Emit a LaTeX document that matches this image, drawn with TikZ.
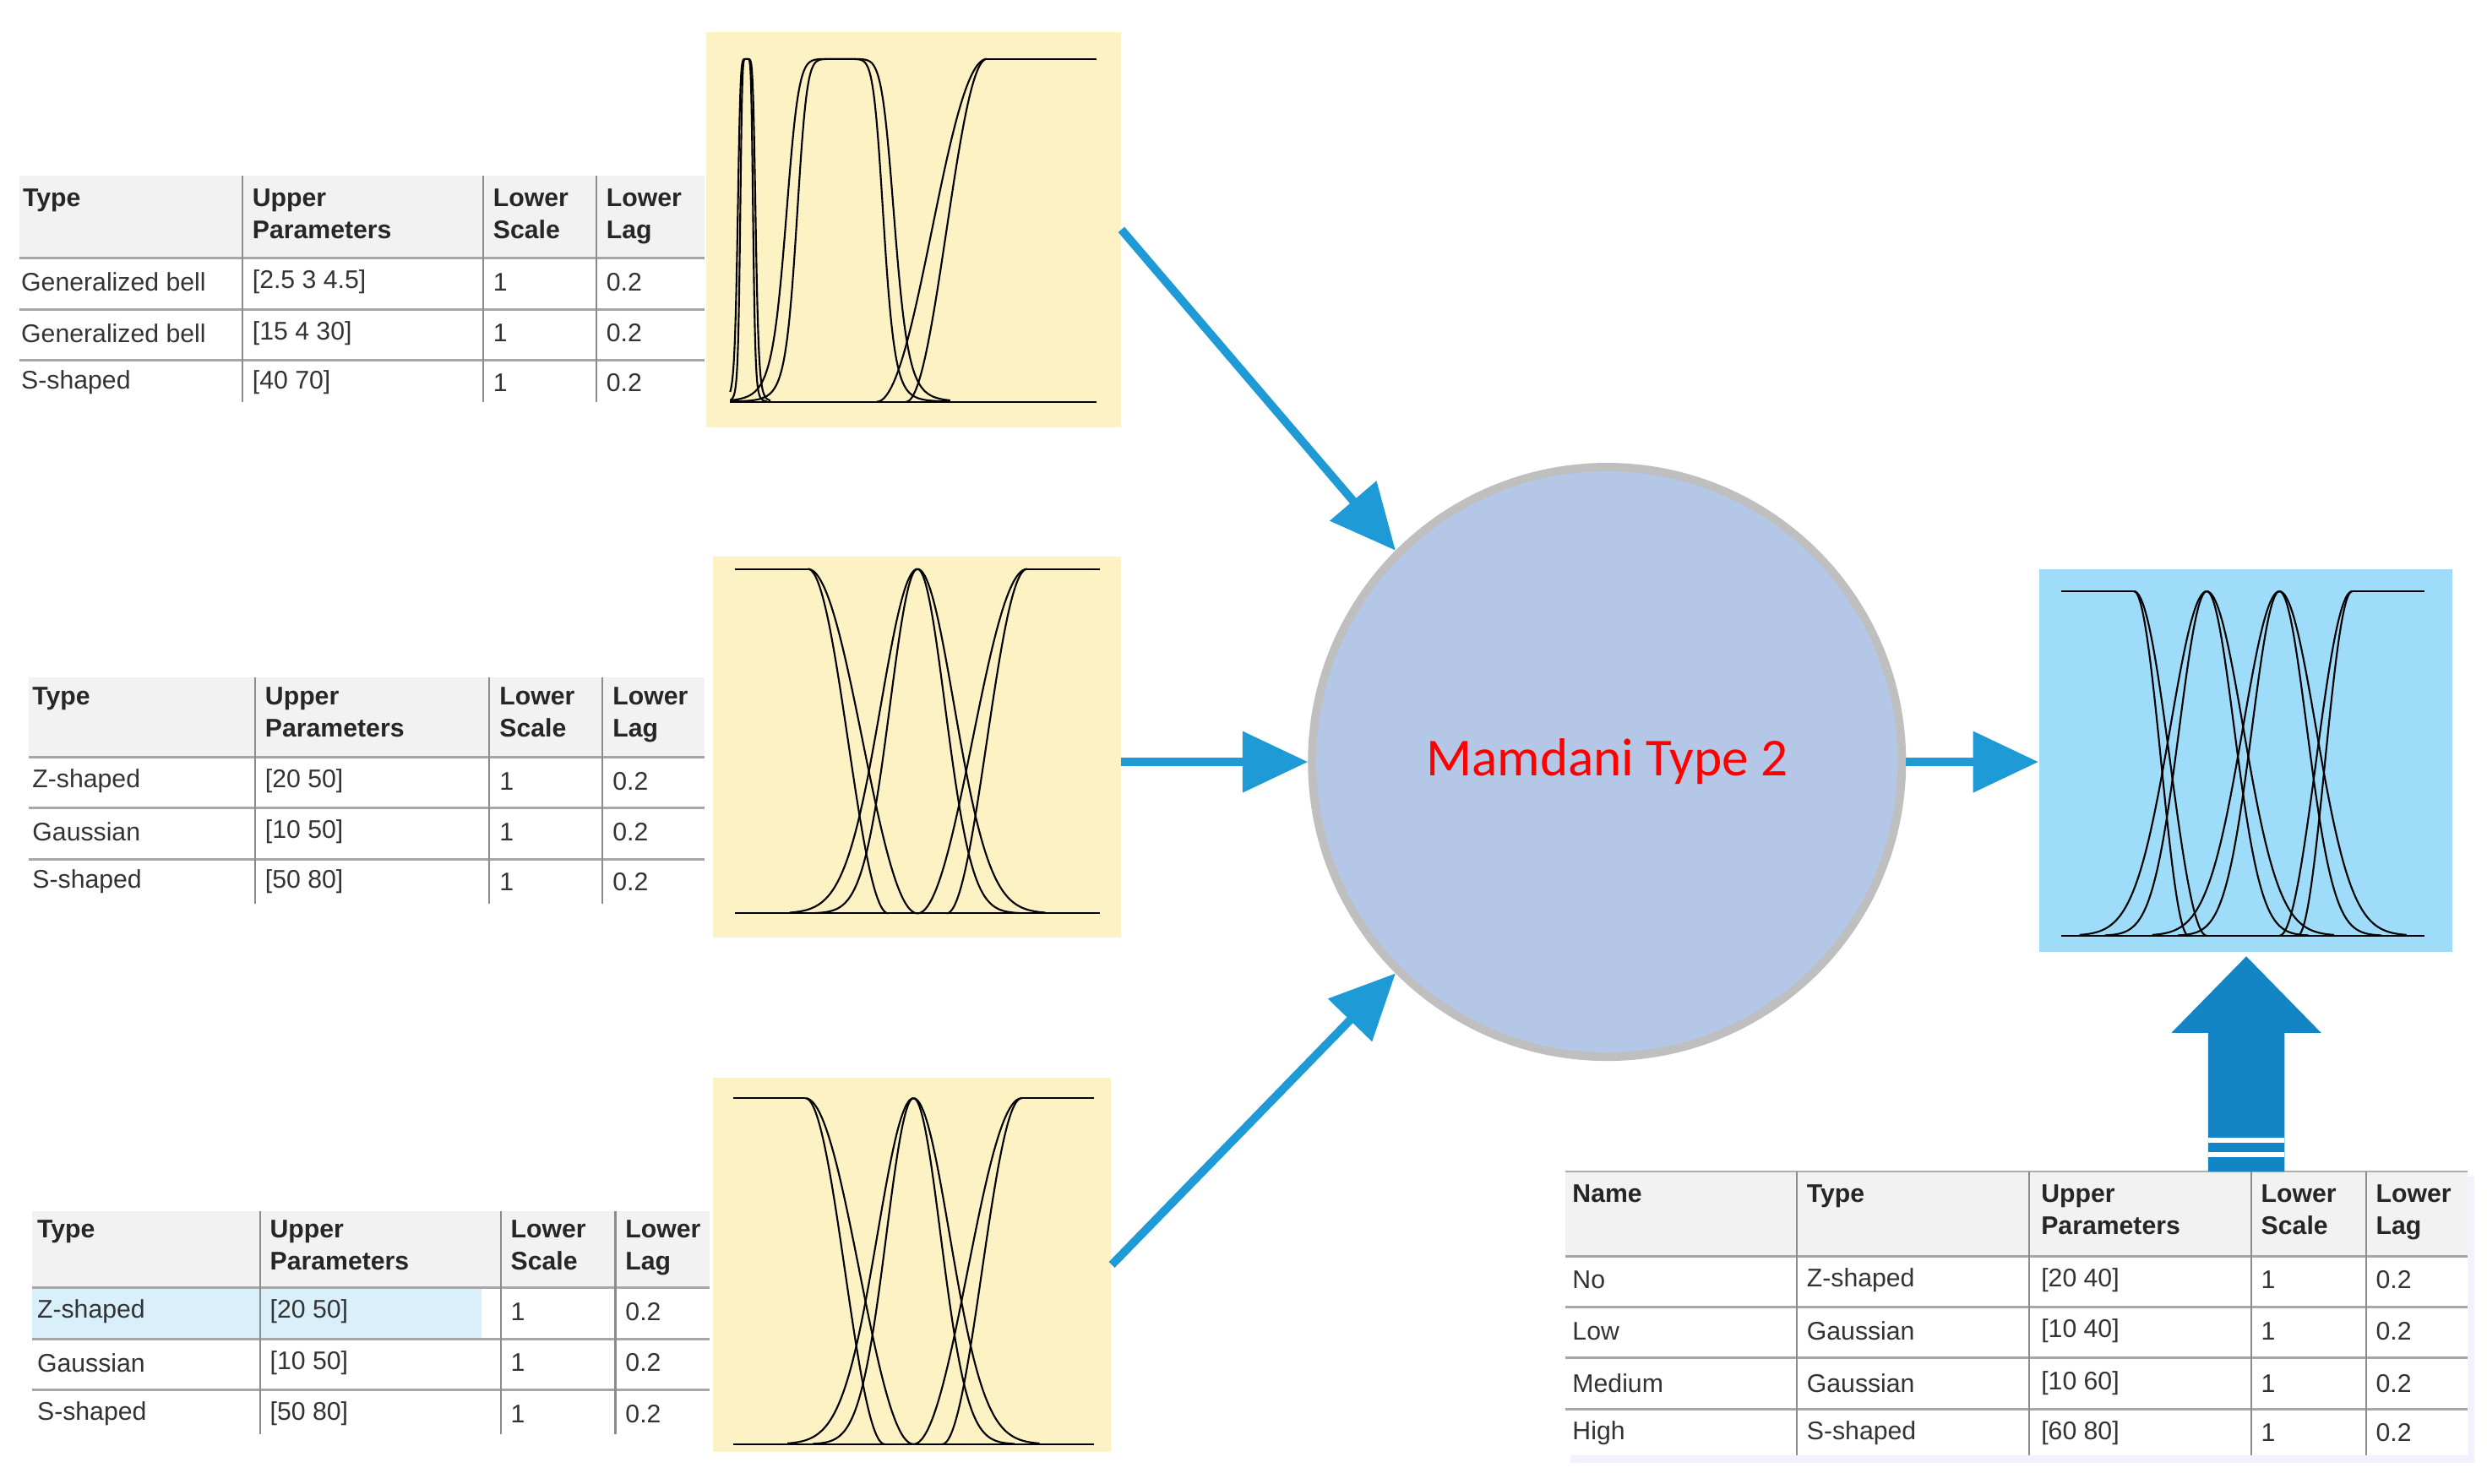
\documentclass[tikz,border=0pt]{standalone}
\usepackage{fontspec}
\setmainfont{Liberation Sans}
\newfontfamily\calib{Carlito}
\usetikzlibrary{arrows.meta}
\definecolor{hdrgray}{HTML}{F2F2F2}
\definecolor{rowgray}{HTML}{A6A6A6}
\definecolor{colgray}{HTML}{8C8C8C}
\definecolor{ybg}{HTML}{FDF2C4}
\definecolor{obg}{HTML}{9FDCF9}
\definecolor{circfill}{HTML}{B4C7E7}
\definecolor{circline}{HTML}{BFBFBF}
\definecolor{arrblue}{HTML}{1E9BD7}
\definecolor{bigblue}{HTML}{1384C4}
\definecolor{hilite}{HTML}{D9F0FB}
\def\u{0.01887cm}
\tikzset{
 hd/.style={anchor=north west,align=left,inner sep=0pt,font=\fontsize{8.6}{10.8}\selectfont\bfseries,text=black!85},
 cell/.style={anchor=west,inner sep=0pt,font=\fontsize{8.6}{10.8}\selectfont,text=black!80},
 rowline/.style={draw=rowgray,line width=0.9pt},
 colline/.style={draw=colgray,line width=0.6pt},
 mf/.style={black,line width=0.6pt},
 flow/.style={draw=arrblue,line width=2.8pt,-{Triangle[length=22pt,width=20pt]}},
 declare function={
  gb(\x,\a,\b,\c)=1/(1+(((\x-\c)/\a)^2)^\b);
  sm(\x,\a,\b)=0.5-0.5*cos(180*(\x-\a)/(\b-\a));
  zm(\x,\a,\b)=0.5+0.5*cos(180*(\x-\a)/(\b-\a));
  gs(\x,\s,\c)=exp(-0.5*((\x-\c)/\s)^2);
 }
}
\newcommand\mf[2]{\draw[mf] plot[domain=#1,samples=90,smooth] (\x,{#2});}
\begin{document}
\begin{tikzpicture}[x=\u,y=-\u]
\useasboundingbox (0,0) rectangle (1560,930.5);
% ---------- Table 1
\fill[hdrgray] (12,110) rectangle (442,162);
\foreach \yy in {162,194,226} \draw[rowline] (12,\yy)--(442,\yy);
\foreach \xx in {152,303,374} \draw[colline] (\xx,110)--(\xx,252);
\node[hd] (t1h1) at (14,118) {Type};
\node[hd] (t1h2) at (158,118) {Upper\\Parameters};
\node[hd] (t1h3) at (309,118) {Lower\\Scale};
\node[hd] (t1h4) at (380,118) {Lower\\Lag};
\foreach \yy/\a/\b [count=\i] in {177/{Generalized bell}/{[2.5 3 4.5]},209/{Generalized bell}/{[15 4 30]},240/{S-shaped}/{[40 70]}}{
 \node[cell] (t1a\i) at (13,\yy) {\a};
 \node[cell] (t1b\i) at (158,\yy) {\b};
 \node[cell] (t1c\i) at (309,\yy) {1};
 \node[cell] (t1d\i) at (380,\yy) {0.2};}
% ---------- Table 2
\fill[hdrgray] (18,425) rectangle (442,475);
\foreach \yy in {475,507,539} \draw[rowline] (18,\yy)--(442,\yy);
\foreach \xx in {160,307,378} \draw[colline] (\xx,425)--(\xx,567);
\node[hd] (t2h1) at (20,431) {Type};
\node[hd] (t2h2) at (166,431) {Upper\\Parameters};
\node[hd] (t2h3) at (313,431) {Lower\\Scale};
\node[hd] (t2h4) at (384,431) {Lower\\Lag};
\foreach \yy/\a/\b [count=\i] in {490/{Z-shaped}/{[20 50]},522/{Gaussian}/{[10 50]},553/{S-shaped}/{[50 80]}}{
 \node[cell] (t2a\i) at (20,\yy) {\a};
 \node[cell] (t2b\i) at (166,\yy) {\b};
 \node[cell] (t2c\i) at (313,\yy) {1};
 \node[cell] (t2d\i) at (384,\yy) {0.2};}
% ---------- Table 3
\fill[hdrgray] (20,760) rectangle (445,808);
\fill[hilite] (20,808) rectangle (302,840);
\foreach \yy in {808,840,872} \draw[rowline] (20,\yy)--(445,\yy);
\foreach \xx in {163,314,386} \draw[colline] (\xx,760)--(\xx,900);
\node[hd] (t3h1) at (23,765) {Type};
\node[hd] (t3h2) at (169,765) {Upper\\Parameters};
\node[hd] (t3h3) at (320,765) {Lower\\Scale};
\node[hd] (t3h4) at (392,765) {Lower\\Lag};
\foreach \yy/\a/\b [count=\i] in {823/{Z-shaped}/{[20 50]},855/{Gaussian}/{[10 50]},887/{S-shaped}/{[50 80]}}{
 \node[cell] (t3a\i) at (23,\yy) {\a};
 \node[cell] (t3b\i) at (169,\yy) {\b};
 \node[cell] (t3c\i) at (320,\yy) {1};
 \node[cell] (t3d\i) at (392,\yy) {0.2};}
% ---------- Table 4
\fill[blue!5] (985,738) rectangle (1552,918);
\fill[white] (982,735) rectangle (1548,913);
\fill[hdrgray] (982,735) rectangle (1548,788);
\draw[colgray!70,line width=0.6pt] (982,735)--(1548,735);
\foreach \yy in {788,820,852,884} \draw[rowline] (982,\yy)--(1548,\yy);
\foreach \xx in {1127,1273,1412,1484} \draw[colline] (\xx,735)--(\xx,913);
\node[hd] (t4h0) at (986,743) {Name};
\node[hd] (t4h1) at (1133,743) {Type};
\node[hd] (t4h2) at (1280,743) {Upper\\Parameters};
\node[hd] (t4h3) at (1418,743) {Lower\\Scale};
\node[hd] (t4h4) at (1490,743) {Lower\\Lag};
\foreach \yy/\n/\a/\b [count=\i] in {803/No/{Z-shaped}/{[20 40]},835/Low/{Gaussian}/{[10 40]},868/Medium/{Gaussian}/{[10 60]},899/High/{S-shaped}/{[60 80]}}{
 \node[cell] (t4n\i) at (986,\yy) {\n};
 \node[cell] (t4a\i) at (1133,\yy) {\a};
 \node[cell] (t4b\i) at (1280,\yy) {\b};
 \node[cell] (t4c\i) at (1418,\yy) {1};
 \node[cell] (t4d\i) at (1490,\yy) {0.2};}
% ---------- plot boxes
\node[fill=ybg,inner sep=0pt,minimum width={260*\u},minimum height={248*\u}] (p1) at (573,144) {};
\node[fill=ybg,inner sep=0pt,minimum width={256*\u},minimum height={239*\u}] (p2) at (575,468.5) {};
\node[fill=ybg,inner sep=0pt,minimum width={250*\u},minimum height={235*\u}] (p3) at (572,793.5) {};
\node[fill=obg,inner sep=0pt,minimum width={259*\u},minimum height={240*\u}] (out) at (1408.5,477) {};
% plot 1
\begin{scope}[shift={(458,252)},xscale=2.3,yscale=-215]
 \draw[mf] (0,0)--(100,0);
 \mf{0:11}{gb(\x,2.5,3,4.5)}
 \mf{0:10}{gb(\x,1.8,3,4.5)}
 \mf{0:60}{gb(\x,15,4,30)}
 \mf{0:60}{gb(\x,12,4,30)}
 \mf{40:70}{sm(\x,40,70)}
 \mf{48:70}{sm(\x,48,70)}
 \draw[mf] (70,1)--(100,1);
\end{scope}
% plot 2
\begin{scope}[shift={(461,573)},xscale=2.29,yscale=-216]
 \draw[mf] (0,0)--(100,0);
 \draw[mf] (0,1)--(20,1);
 \mf{20:50}{zm(\x,20,50)}
 \mf{20:42}{zm(\x,20,42)}
 \mf{15:85}{gs(\x,10,50)}
 \mf{22:78}{gs(\x,7.5,50)}
 \mf{50:80}{sm(\x,50,80)}
 \mf{58:80}{sm(\x,58,80)}
 \draw[mf] (80,1)--(100,1);
\end{scope}
% plot 3
\begin{scope}[shift={(460,906)},xscale=2.26,yscale=-217]
 \draw[mf] (0,0)--(100,0);
 \draw[mf] (0,1)--(20,1);
 \mf{20:50}{zm(\x,20,50)}
 \mf{20:42}{zm(\x,20,42)}
 \mf{15:85}{gs(\x,10,50)}
 \mf{22:78}{gs(\x,7.5,50)}
 \mf{50:80}{sm(\x,50,80)}
 \mf{58:80}{sm(\x,58,80)}
 \draw[mf] (80,1)--(100,1);
\end{scope}
% output plot
\begin{scope}[shift={(1293,587)},xscale=2.28,yscale=-216]
 \draw[mf] (0,0)--(100,0);
 \draw[mf] (0,1)--(20,1);
 \mf{20:40}{zm(\x,20,40)}
 \mf{20:35}{zm(\x,20,35)}
 \mf{5:75}{gs(\x,10,40)}
 \mf{12:68}{gs(\x,7.5,40)}
 \mf{25:95}{gs(\x,10,60)}
 \mf{32:88}{gs(\x,7.5,60)}
 \mf{60:80}{sm(\x,60,80)}
 \mf{65:80}{sm(\x,65,80)}
 \draw[mf] (80,1)--(100,1);
\end{scope}
% ---------- circle
\node[circle,fill=circfill,draw=circline,line width=2.8pt,minimum size={370*\u},inner sep=0pt] (c) at (1008,478)
 {\calib\fontsize{18}{20}\selectfont\color{red}Mamdani Type 2};
% ---------- arrows
\draw[flow] (p1.east) -- (c.135);
\draw[flow] (p2.east |- c) -- (c.west);
\draw[flow] (p3.east) -- (c.225);
\draw[flow] (c.east) -- (out.west |- c);
% ---------- big up arrow
\coordinate (ba) at (1409,735);
\fill[bigblue] (1385,735)--(1385,648)--(1362,648)--(1409,600)--(1456,648)--(1433,648)--(1433,735)--cycle;
\fill[white] (1385,714) rectangle (1433,717);
\fill[white] (1385,723) rectangle (1433,726);
\end{tikzpicture}
\end{document}
